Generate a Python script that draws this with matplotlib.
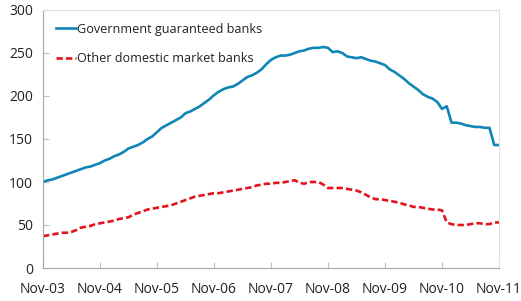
import numpy as np
import matplotlib
matplotlib.use("Agg")
import matplotlib.pyplot as plt

# ------------------------------------ data ------------------------------------
# monthly values, Nov-03 .. Nov-11
gov_banks = [100, 102, 103, 105, 107, 109, 111, 113, 115, 117, 118, 120,
             122, 125, 127, 130, 132, 135, 139, 141, 143, 146, 150, 153,
             158, 163, 166, 169, 172, 175, 180, 182, 185, 188, 192, 196,
             201, 205, 208, 210, 211, 214, 218, 222, 224, 227, 231, 237,
             242, 245, 247, 247, 248, 250, 252, 253, 255, 256, 256, 257,
             256, 251, 252, 250, 246, 245, 244, 245, 243, 241, 240, 238,
             236, 231, 228, 224, 220, 215, 211, 207, 202, 199, 197, 193,
             185, 188, 169, 169, 168, 166, 165, 164, 164, 163, 163, 143,
             143]
other_banks = [37, 38, 39, 40, 41, 41, 42, 44, 47, 48, 49, 51,
               52, 53, 54, 55, 57, 58, 59, 62, 64, 66, 68, 69,
               70, 71, 72, 73, 75, 77, 79, 81, 83, 84, 85, 86,
               87, 87, 88, 89, 90, 91, 92, 93, 94, 96, 97, 98,
               98, 99, 99, 100, 101, 102, 99, 98, 100, 100, 100, 97,
               93, 93, 93, 93, 92, 91, 90, 88, 85, 82, 80, 80,
               79, 78, 77, 76, 74, 73, 71, 71, 70, 69, 68, 68,
               67, 53, 51, 50, 50, 50, 51, 52, 52, 51, 51, 53,
               53]
tick_labels = ["Nov-03", "Nov-04", "Nov-05", "Nov-06", "Nov-07",
               "Nov-08", "Nov-09", "Nov-10", "Nov-11"]
y_ticks = [0, 50, 100, 150, 200, 250, 300]

# ------------------------------------ plot ------------------------------------
plt.rcParams['font.family'] = ['Open Sans', 'DejaVu Sans']

fig = plt.figure(figsize=(5.21, 3.01), dpi=100)
ax = fig.add_axes([43 / 521, 33 / 301, 456 / 521, 258 / 301])

months = np.arange(len(gov_banks))
ax.plot(months, gov_banks, color="#0e86b6", lw=1.9, label="Government guaranteed banks")
ax.plot(months, other_banks, color="#e3121b", lw=1.9, ls=(0, (2.4, 1.2)),
        label="Other domestic market banks")

ax.set_xlim(0, 96)
ax.set_ylim(0, 300)
ax.set_xticks(np.arange(0, 97, 12))
ax.set_xticklabels(tick_labels)
ax.set_yticks(y_ticks)

ax.tick_params(axis="both", direction="in", length=4, color="#bfbfbf",
               labelsize=10, labelcolor="#222222")
ax.tick_params(axis="x", pad=10)
ax.tick_params(axis="y", pad=7)

for side in ["left", "bottom"]:
    ax.spines[side].set_color("#a6a6a6")
for side in ["top", "right"]:
    ax.spines[side].set_color("#e0e0e0")

leg = ax.legend(loc="upper left", frameon=False, fontsize=9.1, handlelength=1.6,
                handletextpad=0.1, labelspacing=1.3, borderaxespad=0.6,
                bbox_to_anchor=(0.0, 1.0))
for t in leg.get_texts():
    t.set_color("#222222")

fig.savefig("out.png", dpi=100)
